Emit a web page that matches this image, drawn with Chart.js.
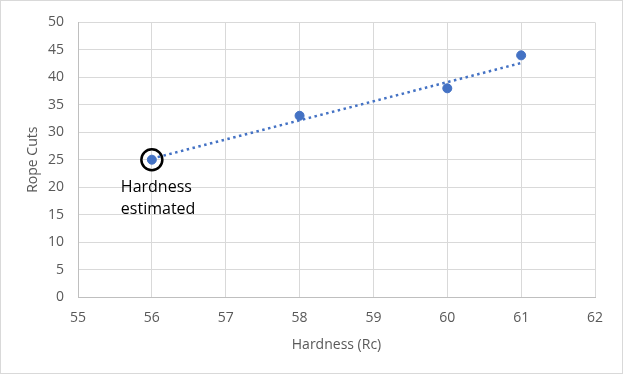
<!DOCTYPE html>
<html>
<head>
<meta charset="utf-8">
<script src="https://cdn.jsdelivr.net/npm/chart.js@4/dist/chart.umd.min.js"></script>
<style>
  html, body { margin: 0; padding: 0; background: #fff; }
  canvas { display: block; }
</style>
</head>
<body>
<canvas id="myChart" width="623" height="375"></canvas>
<script>
// data
const hardness = [56, 58, 60, 61];
const ropeCuts = [25, 33, 38, 44];
// dotted trendline end points as drawn in the picture
const trendHardness = [56, 61];
const trendCuts = [25.2, 42.6];
const estimatedIndex = 0;
const noteLines = ['Hardness', 'estimated'];
const xTicks = [55, 56, 57, 58, 59, 60, 61, 62];
const yTicks = [0, 5, 10, 15, 20, 25, 30, 35, 40, 45, 50];

const tickFont = { family: 'Open Sans', size: 14 };
const tickColor = '#595959';

const frame = {
    id: 'frame',
    beforeDraw(chart) {
        const c = chart.ctx;
        c.save();
        c.fillStyle = '#fff';
        c.fillRect(0, 0, chart.width, chart.height);
        c.strokeStyle = '#d9d9d9';
        c.lineWidth = 1;
        c.strokeRect(0.5, 0.5, chart.width - 1, chart.height - 2);
        c.restore();
    },
    afterDatasetsDraw(chart) {
        const c = chart.ctx;
        const x = chart.scales.x.getPixelForValue(hardness[estimatedIndex]);
        const y = chart.scales.y.getPixelForValue(ropeCuts[estimatedIndex]);
        c.save();
        c.fillStyle = '#000';
        c.font = '16px "Open Sans"';
        c.textAlign = 'left';
        c.textBaseline = 'alphabetic';
        noteLines.forEach((t, i) => c.fillText(t, x - 31, y + 32 + i * 22));
        c.restore();
    }
};

const ctx = document.getElementById('myChart').getContext('2d');
const myChart = new Chart(ctx, {
    type: 'scatter',
    data: {
        datasets: [{
            label: 'trend',
            type: 'line',
            data: trendHardness.map((x, i) => ({ x: x, y: trendCuts[i] })),
            borderColor: '#4472c4',
            borderWidth: 2.5,
            borderDash: [2.5, 3.5],
            pointRadius: 0,
            fill: false,
            order: 3
        }, {
            label: 'Rope Cuts',
            data: hardness.map((x, i) => ({ x: x, y: ropeCuts[i] })),
            backgroundColor: '#4472c4',
            borderColor: '#4472c4',
            pointRadius: 4.5,
            pointHoverRadius: 4.5,
            order: 2
        }, {
            label: 'estimated',
            data: [{ x: hardness[estimatedIndex], y: ropeCuts[estimatedIndex] }],
            backgroundColor: 'rgba(0,0,0,0)',
            borderColor: '#000',
            borderWidth: 2.5,
            pointRadius: 10.5,
            pointHoverRadius: 10.5,
            order: 1
        }]
    },
    options: {
        responsive: false,
        animation: false,
        layout: {
            padding: { left: 0, top: 19, right: 28, bottom: 0 }
        },
        plugins: {
            legend: { display: false },
            tooltip: { enabled: false }
        },
        scales: {
            x: {
                type: 'linear',
                min: 55,
                max: 62,
                afterFit: s => { s.height = 78; },
                afterBuildTicks: s => { s.ticks = xTicks.map(v => ({ value: v })); },
                grid: { color: '#d9d9d9', drawTicks: false },
                border: { color: '#bfbfbf', width: 1 },
                ticks: { font: tickFont, color: tickColor, padding: 13 },
                title: {
                    display: true,
                    text: 'Hardness (Rc)',
                    font: tickFont,
                    color: tickColor,
                    padding: { top: 0, bottom: 22 }
                }
            },
            y: {
                min: 0,
                max: 50,
                afterFit: s => { s.width = 78; },
                afterBuildTicks: s => { s.ticks = yTicks.map(v => ({ value: v })); },
                grid: { color: '#d9d9d9', drawTicks: false },
                border: { color: '#bfbfbf', width: 1 },
                ticks: { font: tickFont, color: tickColor, padding: 14 },
                title: {
                    display: true,
                    text: 'Rope Cuts',
                    font: tickFont,
                    color: tickColor,
                    padding: { top: 25, bottom: 0 }
                }
            }
        }
    },
    plugins: [frame]
});
</script>
</body>
</html>
